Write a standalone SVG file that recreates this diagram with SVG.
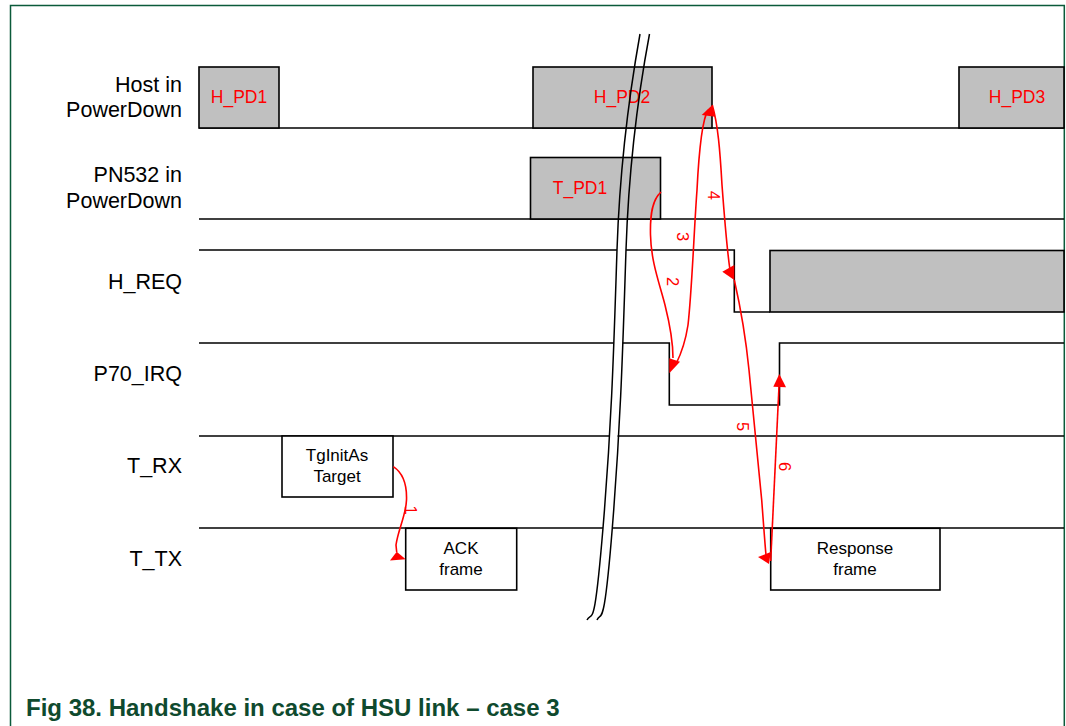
<svg xmlns="http://www.w3.org/2000/svg" width="1066" height="726" viewBox="0 0 1066 726">
<style>
.frame{fill:none;stroke:#0b5a3a;stroke-width:1.5}
.sig{fill:none;stroke:#000;stroke-width:1.6}
.box{fill:#c0c0c0;stroke:#000;stroke-width:1.6}
.wbox{fill:#fff;stroke:#000;stroke-width:1.6}
.lbl{font-family:"Liberation Sans",Arial,sans-serif;font-size:21.5px;fill:#000;text-anchor:end}
.red{font-family:"Liberation Sans",Arial,sans-serif;font-size:17.5px;fill:#f00;text-anchor:middle}
.btxt{font-family:"Liberation Sans",Arial,sans-serif;font-size:17px;fill:#000;text-anchor:middle}
.num{font-family:"Liberation Sans",Arial,sans-serif;font-size:16.5px;fill:#f00;text-anchor:middle;dominant-baseline:central}
.arr{fill:none;stroke:#f00;stroke-width:1.6}
.head{fill:#f00;stroke:none}
.brk{fill:none;stroke:#000;stroke-width:1.5}
.cap{font-family:"Liberation Sans",Arial,sans-serif;font-size:24px;font-weight:bold;fill:#0f4a2e}
</style>
<defs>
<clipPath id="lower"><rect x="0" y="236" width="1066" height="400"/></clipPath>
</defs>
<rect x="0" y="0" width="1066" height="726" fill="#fff"/>
<path class="frame" d="M10.5,726 V5.5 H1064.3 V726"/>

<g id="labels">
<text class="lbl" x="182" y="92">Host in</text>
<text class="lbl" x="182" y="117">PowerDown</text>
<text class="lbl" x="182" y="182">PN532 in</text>
<text class="lbl" x="182" y="208">PowerDown</text>
<text class="lbl" x="182" y="289">H_REQ</text>
<text class="lbl" x="182" y="381">P70_IRQ</text>
<text class="lbl" x="182" y="473">T_RX</text>
<text class="lbl" x="182" y="566">T_TX</text>
</g>

<g id="host-row">
<line class="sig" x1="199" y1="128" x2="1064" y2="128"/>
<g id="H_PD1"><rect class="box" x="199" y="67" width="80" height="61"/><text class="red" x="239" y="103">H_PD1</text></g>
<g id="H_PD2"><rect class="box" x="533" y="67" width="179" height="61"/><text class="red" x="622" y="103">H_PD2</text></g>
<g id="H_PD3"><rect class="box" x="959" y="67" width="105" height="61"/><text class="red" x="1017" y="103">H_PD3</text></g>
</g>

<g id="pn532-row">
<line class="sig" x1="199" y1="219" x2="1064" y2="219"/>
<g id="T_PD1"><rect class="box" x="530.5" y="157.5" width="130" height="61.5"/><text class="red" x="580" y="194">T_PD1</text></g>
</g>

<g id="h-req">
<path class="sig" d="M199,250 H734.3 V312 H770"/>
<rect class="box" x="770" y="250.5" width="294" height="61.5"/>
</g>

<g id="p70-irq">
<path class="sig" d="M199,343 H669.3 V405 H779.5 V343 H1064"/>
</g>

<g id="t-rx">
<line class="sig" x1="199" y1="436" x2="1064" y2="436"/>
<g id="TgInitAs"><rect class="wbox" x="282" y="436" width="111" height="61"/><text class="btxt" x="337" y="461">TgInitAs</text><text class="btxt" x="337" y="482">Target</text></g>
</g>

<g id="t-tx">
<line class="sig" x1="199" y1="528" x2="1064" y2="528"/>
<g id="ACK"><rect class="wbox" x="405.7" y="528.3" width="111" height="61.7"/><text class="btxt" x="461" y="554">ACK</text><text class="btxt" x="461" y="575">frame</text></g>
<g id="Response"><rect class="wbox" x="770.7" y="528.3" width="169.3" height="61.7"/><text class="btxt" x="855" y="554">Response</text><text class="btxt" x="855" y="575">frame</text></g>
</g>

<g id="break">
<path fill="#fff" stroke="none" clip-path="url(#lower)" d="M640,34 C630,90 620,160 617,250 S612,420 603,528 S592,610 587,620 L597,620 C601,610 612,560 612.3,528 S621,420 626,250 S639,90 649.5,34 Z"/>
<path class="brk" d="M640,34 C630,90 620,160 617,250 S612,420 603,528 S592,610 587,620"/>
<path class="brk" d="M649.5,34 C639,90 629,160 626,250 S621,420 612.3,528 S601,610 597,620"/>
</g>

<g id="connectors">
<path class="arr" d="M393.3,466.7 C403,473 407,485 406.5,500 C406,515 398,530 396,545 L396.7,552"/>
<polygon class="head" points="405.7,559.3 396.7,551.7 390,560.5"/>
<path class="arr" d="M661,192 C652,200 650,215 650.5,235 C651,262 660,285 665,305 C670,325 673,340 673,358"/>
<polygon class="head" points="669.3,358.3 680,361.7 669.3,373.3"/>
<path class="arr" d="M676,364 C683,350 686,338 688,325 C692,290 694,230 697,190 C699,150 702,120 708,110"/>
<polygon class="head" points="712.3,105 701.7,115 715,116.7"/>
<path class="arr" d="M712.3,105 C718,125 720,150 722,185 C725,225 727,250 730,270"/>
<polygon class="head" points="722.3,271.7 734.3,265 734.3,280"/>
<path class="arr" d="M734.3,280 C740,305 745,330 749,370 C753,410 757,450 761.7,500 C764,530 765,545 766,555"/>
<polygon class="head" points="758,557 770.7,552 769,564"/>
<path class="arr" d="M770.7,561 L779.3,380"/>
<polygon class="head" points="779.3,374 773.3,386.7 786,387.3"/>
<text class="num" x="411" y="510" transform="rotate(90 411 510)">1</text>
<text class="num" x="672.5" y="281.7" transform="rotate(90 672.5 281.7)">2</text>
<text class="num" x="682.7" y="236.7" transform="rotate(90 682.7 236.7)">3</text>
<text class="num" x="714" y="195.3" transform="rotate(90 714 195.3)">4</text>
<text class="num" x="743.3" y="426.7" transform="rotate(90 743.3 426.7)">5</text>
<text class="num" x="785" y="466.7" transform="rotate(90 785 466.7)">6</text>
</g>

<text class="cap" x="26" y="716">Fig 38. Handshake in case of HSU link – case 3</text>
</svg>
